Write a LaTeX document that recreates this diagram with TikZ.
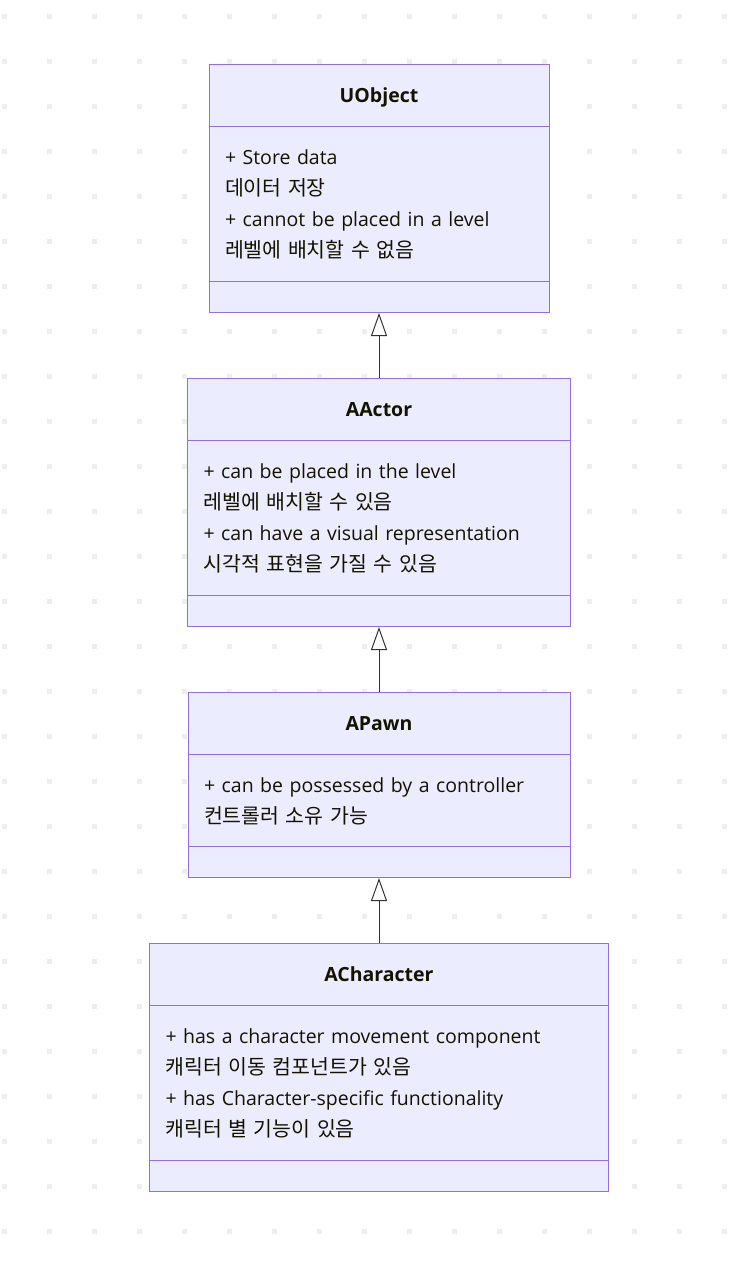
\documentclass[tikz,border=0pt]{standalone}
\usepackage{fontspec}
\setmainfont{Open Sans}
\newfontfamily\kr{Noto Sans CJK KR}
\usetikzlibrary{positioning, chains, shapes.multipart, arrows.meta}

\definecolor{umlfill}{HTML}{ECECFF}
\definecolor{umlborder}{HTML}{9370DB}
\definecolor{umlline}{HTML}{333333}
\definecolor{umltext}{HTML}{131300}
\definecolor{griddot}{HTML}{EEEEEE}

\newcommand{\mmd}{\fontsize{19.5}{31}\selectfont}
\newcommand{\ko}[1]{{\kr\fontsize{20.5}{31}\selectfont #1}}
\newcommand{\classname}[1]{\makebox[\linewidth][c]{\rule[-24pt]{0pt}{61pt}\textbf{#1}}}
\newcommand{\firstline}{\rule{0pt}{37pt}}
\newcommand{\lastline}{\rule[-24pt]{0pt}{24pt}}
\newcommand{\emptypart}{\rule{0pt}{30pt}}

\begin{document}
\begin{tikzpicture}[x=1pt, y=-1pt,
    class/.style={rectangle split, rectangle split parts=3, draw=umlborder,
      fill=umlfill, line width=1pt, inner xsep=16pt, inner ysep=0pt,
      align=left, font=\mmd, text=umltext},
    inherit/.style={draw=umlline, line width=1pt,
      -{Triangle[open, fill=white, width=16pt, length=23pt]}},
    start chain=going below, node distance=65pt]

  \useasboundingbox (0,0) rectangle (736,1263);
  % dotted background
  \foreach \i in {0,...,16}
    \foreach \j in {0,...,27}
      \fill[griddot] (2+45*\i,14+45*\j) rectangle ++(5,5);

  \node[class, on chain, text width=308pt, anchor=north] (uobject) at (379,64)
    {\classname{UObject}
     \nodepart{two}\firstline+ Store data\\
       \ko{데이터 저장}\\
       + cannot be placed in a level\\
       \ko{레벨에 배치할 수 없음}\lastline
     \nodepart{three}\emptypart};
  \node[class, on chain, text width=351pt] (aactor)
    {\classname{AActor}
     \nodepart{two}\firstline+ can be placed in the level\\
       \ko{레벨에 배치할 수 있음}\\
       + can have a visual representation\\
       \ko{시각적 표현을 가질 수 있음}\lastline
     \nodepart{three}\emptypart};
  \node[class, on chain, text width=350pt] (apawn)
    {\classname{APawn}
     \nodepart{two}\firstline+ can be possessed by a controller\\
       \ko{컨트롤러 소유 가능}\rule[-23pt]{0pt}{23pt}
     \nodepart{three}\emptypart};
  \node[class, on chain, text width=427pt] (acharacter)
    {\classname{ACharacter}
     \nodepart{two}\firstline+ has a character movement component\\
       \ko{캐릭터 이동 컴포넌트가 있음}\\
       + has Character-specific functionality\\
       \ko{캐릭터 별 기능이 있음}\lastline
     \nodepart{three}\emptypart};

  \draw[inherit] (aactor) -- (uobject);
  \draw[inherit] (apawn) -- (aactor);
  \draw[inherit] (acharacter) -- (apawn);
\end{tikzpicture}
\end{document}
